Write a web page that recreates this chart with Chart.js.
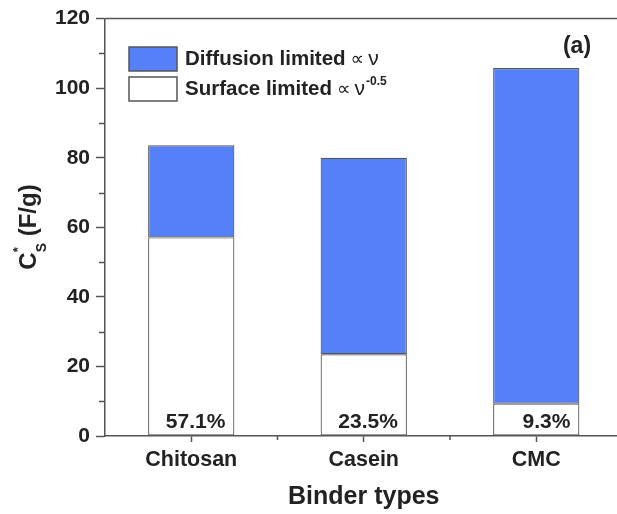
<!DOCTYPE html>
<html>
<head>
<meta charset="utf-8">
<script src="https://cdn.jsdelivr.net/npm/chart.js@4/dist/chart.umd.min.js"></script>
<style>
  html, body { margin: 0; padding: 0; background: #fff; overflow: hidden; }
  #wrap { width: 617px; height: 514px; overflow: hidden; }
</style>
</head>
<body>
<div id="wrap"><canvas id="myChart" width="630" height="514"></canvas></div>
<script>
const binders = ["Chitosan", "Casein", "CMC"];
const surfaceLimited = [57.1, 23.5, 9.3];
const diffusionLimited = [26.5, 56.5, 96.5];
const percentLabels = ["57.1%", "23.5%", "9.3%"];
const yTicks = [0, 20, 40, 60, 80, 100, 120];

const blue = "#5680f7";
const lineCol = "#555";
const textCol = "#222";
const fontFam = "'Liberation Sans', Arial, sans-serif";

// ticks secondari, riga in alto, legenda, etichette
const extras = {
  id: "extras",
  afterDraw(chart) {
    const c = chart.ctx;
    const a = chart.chartArea;
    const xs = chart.scales.x, ys = chart.scales.y;
    c.save();
    c.strokeStyle = lineCol;
    c.lineWidth = 1.5;
    c.beginPath();
    c.moveTo(a.left, a.top);
    c.lineTo(a.right + 10, a.top);
    // minor y
    for (let v = 10; v < 120; v += 20) {
      const y = Math.round(ys.getPixelForValue(v)) + 0.5;
      c.moveTo(a.left, y);
      c.lineTo(a.left - 6, y);
    }
    // minor x
    for (let i = 0; i < binders.length - 1; i++) {
      const x = (xs.getPixelForValue(i) + xs.getPixelForValue(i + 1)) / 2;
      c.moveTo(x, a.bottom);
      c.lineTo(x, a.bottom + 4);
    }
    c.stroke();

    // percentuali
    c.fillStyle = textCol;
    c.font = "bold 21px " + fontFam;
    c.textAlign = "right";
    c.textBaseline = "alphabetic";
    chart.getDatasetMeta(0).data.forEach((bar, i) => {
      c.fillText(percentLabels[i], bar.x + bar.width / 2 - 9, a.bottom - 8);
    });

    // (a)
    c.textAlign = "center";
    c.font = "bold 23px " + fontFam;
    c.fillText("(a)", 577, 53);

    // legenda
    const items = [
      { ds: chart.data.datasets[1], y: 47, sup: "" },
      { ds: chart.data.datasets[0], y: 77, sup: "-0.5" },
    ];
    items.forEach((it) => {
      c.fillStyle = it.ds.backgroundColor;
      c.fillRect(129, it.y, 48, 24);
      c.strokeStyle = lineCol;
      c.lineWidth = 1.5;
      c.strokeRect(129, it.y, 48, 24);
      c.fillStyle = textCol;
      c.textAlign = "left";
      c.font = "bold 20.5px " + fontFam;
      let x = 185;
      const base = it.y + 18;
      c.fillText(it.ds.label, x, base);
      x += c.measureText(it.ds.label).width + 5;
      c.font = "19px 'DejaVu Sans', sans-serif";
      c.fillText("\u221D", x, base);
      x += c.measureText("\u221D").width + 4;
      c.font = "21px 'Liberation Sans', sans-serif";
      c.fillText("\u03BD", x, base);
      x += c.measureText("\u03BD").width + 1;
      if (it.sup) {
        c.font = "bold 12px " + fontFam;
        c.fillText(it.sup, x, base - 10);
      }
    });

    // titolo asse y
    c.translate(36, 227);
    c.rotate(-Math.PI / 2);
    const parts = [
      { t: "C", f: "bold 24px " + fontFam, dy: 0 },
      { t: "*", f: "bold 13px " + fontFam, dy: -14, stay: true },
      { t: "S", f: "bold 14px " + fontFam, dy: 10 },
      { t: " (F/g)", f: "bold 24px " + fontFam, dy: 0 },
    ];
    let total = 0;
    parts.forEach((p) => {
      c.font = p.f;
      if (!p.stay) total += c.measureText(p.t).width;
    });
    let px = -total / 2;
    c.textAlign = "left";
    parts.forEach((p) => {
      c.font = p.f;
      c.fillText(p.t, px, p.dy);
      if (!p.stay) px += c.measureText(p.t).width;
    });
    c.restore();
  },
};

const ctx = document.getElementById("myChart").getContext("2d");
const myChart = new Chart(ctx, {
  type: "bar",
  data: {
    labels: binders,
    datasets: [
      {
        label: "Surface limited",
        data: surfaceLimited,
        backgroundColor: "#ffffff",
        borderColor: lineCol,
        borderWidth: 1.2,
        borderSkipped: false,
      },
      {
        label: "Diffusion limited",
        data: diffusionLimited,
        backgroundColor: blue,
        borderColor: lineCol,
        borderWidth: 1.2,
        borderSkipped: false,
      },
    ],
  },
  options: {
    responsive: false,
    animation: false,
    layout: { padding: { left: 0, top: 17, right: 7.5, bottom: 0 } },
    datasets: { bar: { barPercentage: 0.5, categoryPercentage: 1 } },
    plugins: { legend: { display: false }, tooltip: { enabled: false } },
    scales: {
      x: {
        stacked: true,
        afterFit: (s) => { s.height = 78; },
        grid: { offset: false, drawOnChartArea: false, tickLength: 6, tickColor: lineCol, tickWidth: 1.5 },
        border: { color: lineCol, width: 1.5 },
        ticks: { color: textCol, font: { family: fontFam, size: 21.5, weight: "bold" }, padding: 5 },
        title: {
          display: true,
          text: "Binder types",
          color: textCol,
          font: { family: fontFam, size: 25, weight: "bold" },
          padding: { top: 0, bottom: 2 },
        },
      },
      y: {
        stacked: true,
        min: 0,
        max: 120,
        afterFit: (s) => { s.width = 105; },
        afterBuildTicks: (s) => { s.ticks = yTicks.map((v) => ({ value: v })); },
        grid: { drawOnChartArea: false, tickLength: 9, tickColor: lineCol, tickWidth: 1.5 },
        border: { color: lineCol, width: 1.5 },
        ticks: { color: textCol, font: { family: fontFam, size: 21, weight: "bold" }, padding: 6 },
      },
    },
  },
  plugins: [extras],
});
</script>
</body>
</html>
